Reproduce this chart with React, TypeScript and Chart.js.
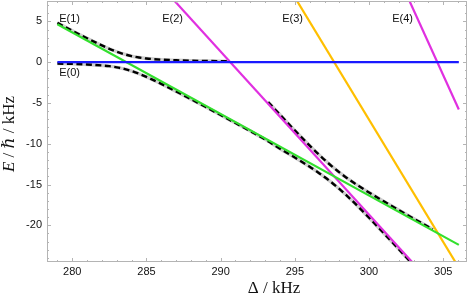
import React, { useEffect, useRef } from 'react';
import { Chart, registerables } from 'chart.js';

Chart.register(...registerables);

// Axis ranges (kHz)
const xRange = [278.3, 306.6];
const yRange = [-24.5, 7.5];

// Tick labels
const xTickValues = [280, 285, 290, 295, 300, 305];
const yTickValues = [5, 0, -5, -10, -15, -20];

// Bare levels E(n): straight lines, endpoints
const e0Delta = [279, 306.05];
const e0Energy = [0, 0];
const e1Delta = [279, 306.05];
const e1Energy = [4.65, -22.4];
const e2Delta = [286.5, 303.3];
const e2Energy = [8.3, -25.3];
const e3Delta = [295, 305.9];
const e3Energy = [7.95, -24.75];
const e4Delta = [302.5, 306.05];
const e4Energy = [8.4, -5.8];

// Dressed (dashed) branches
const upperADelta = [279, 280, 281, 282, 282.5, 283, 283.5, 284, 284.5, 285, 286, 287, 288, 289, 290.6];
const upperAEnergy = [4.82, 3.86, 2.93, 2.05, 1.64, 1.28, 0.98, 0.74, 0.57, 0.45, 0.31, 0.23, 0.18, 0.15, 0.11];

const lowerDelta = [279, 280, 281, 282, 282.5, 283, 283.5, 284, 284.5, 285, 286, 287, 288, 289, 290, 291, 292, 293, 294, 295, 296, 296.5, 297, 297.5, 298, 298.5, 299, 300, 301, 302, 303];
const lowerEnergy = [-0.17, -0.21, -0.28, -0.4, -0.49, -0.63, -0.83, -1.09, -1.42, -1.8, -2.66, -3.58, -4.53, -5.5, -6.48, -7.46, -8.45, -9.47, -10.61, -11.69, -12.82, -13.43, -14.08, -14.78, -15.54, -16.36, -17.23, -19.07, -20.98, -22.92, -24.88];

const upperBDelta = [293.2, 294, 295, 296, 296.5, 297, 297.5, 298, 298.5, 299, 300, 301, 302, 303, 304.3];
const upperBEnergy = [-4.89, -6.44, -8.37, -10.23, -11.12, -11.97, -12.77, -13.51, -14.19, -14.82, -15.98, -17.07, -18.13, -19.17, -20.5];

// Level labels and their anchor points (Δ, E)
const levelLabels = ['E(0)', 'E(1)', 'E(2)', 'E(3)', 'E(4)'];
const labelDelta = [279.12, 279.12, 286.06, 294.15, 301.56];
const labelEnergy = [-1.35, 5.27, 5.27, 5.27, 5.27];

const xTitle = 'Δ / kHz';
const yTitleParts: [string, boolean][] = [['E', true], [' / ', false], ['ℏ', true], [' / kHz', false]];

const zip = (xs: number[], ys: number[]) => xs.map((x, i) => ({ x, y: ys[i] }));

const FRAME = '#b4b4b4';
const SANS = '"Liberation Sans", Arial, sans-serif';
const SERIF = '"Liberation Serif", "DejaVu Serif", serif';

const framePlugin = {
  id: 'frameTicks',
  afterDraw(chart: any) {
    const { ctx, chartArea: a, scales } = chart;
    const xs = scales.x, ys = scales.y;
    ctx.save();
    ctx.strokeStyle = FRAME;
    ctx.lineWidth = 1;
    ctx.strokeRect(Math.round(a.left) + 0.5, Math.round(a.top) + 0.5, Math.round(a.right - a.left) - 1, Math.round(a.bottom - a.top) - 1);
    ctx.beginPath();
    for (let v = Math.ceil(xs.min); v <= xs.max; v++) {
      const len = v % 5 === 0 ? 4 : 2;
      const px = Math.round(xs.getPixelForValue(v)) + 0.5;
      ctx.moveTo(px, a.bottom); ctx.lineTo(px, a.bottom - len);
      ctx.moveTo(px, a.top); ctx.lineTo(px, a.top + len);
    }
    for (let v = Math.ceil(ys.min); v <= ys.max; v++) {
      const len = v % 5 === 0 ? 4 : 2;
      const py = Math.round(ys.getPixelForValue(v)) + 0.5;
      ctx.moveTo(a.left, py); ctx.lineTo(a.left + len, py);
      ctx.moveTo(a.right, py); ctx.lineTo(a.right - len, py);
    }
    ctx.stroke();

    ctx.fillStyle = '#111';
    ctx.font = '11px ' + SANS;
    ctx.textBaseline = 'middle';

    // tick labels
    ctx.textAlign = 'center';
    xTickValues.forEach((v) => ctx.fillText(String(v), xs.getPixelForValue(v), a.bottom + 10));
    ctx.textAlign = 'right';
    yTickValues.forEach((v) => ctx.fillText(String(v), a.left - 5, ys.getPixelForValue(v)));

    // level labels
    ctx.textAlign = 'left';
    levelLabels.forEach((t, i) => {
      ctx.fillText(t, xs.getPixelForValue(labelDelta[i]), ys.getPixelForValue(labelEnergy[i]));
    });

    // x title
    ctx.font = '17px ' + SERIF;
    ctx.textAlign = 'center';
    ctx.fillText(xTitle, 274, 289);

    // y title (rotated, mixed italic)
    ctx.translate(10, 134);
    ctx.rotate(-Math.PI / 2);
    const fontFor = (it: boolean) => (it ? 'italic ' : '') + '17px ' + SERIF;
    let total = 0;
    yTitleParts.forEach(([t, it]) => { ctx.font = fontFor(it); total += ctx.measureText(t).width; });
    let x = -total / 2;
    ctx.textAlign = 'left';
    yTitleParts.forEach(([t, it]) => {
      ctx.font = fontFor(it);
      ctx.fillText(t, x, 0);
      x += ctx.measureText(t).width;
    });
    ctx.restore();
  },
};

export default function App() {
  const ref = useRef<HTMLCanvasElement | null>(null);
  useEffect(() => {
    if (!ref.current) return;
    const line = (data: any[], color: string, width: number, extra: any = {}) => ({
      data, borderColor: color, borderWidth: width, pointRadius: 0, fill: false, tension: 0, ...extra,
    });
    const smooth = { cubicInterpolationMode: 'monotone' };
    const chart = new Chart(ref.current, {
      type: 'line',
      data: {
        datasets: [
          line(zip(e0Delta, e0Energy), '#1a1aff', 2.2),
          line(zip(e1Delta, e1Energy), '#33e02e', 2.2),
          line(zip(e2Delta, e2Energy), '#e030e0', 2.2),
          line(zip(e3Delta, e3Energy), '#ffbf00', 2.2),
          line(zip(e4Delta, e4Energy), '#e030e0', 2.2),
          line(zip(upperADelta, upperAEnergy), '#000', 2.4, { ...smooth, borderDash: [6, 3.5] }),
          line(zip(lowerDelta, lowerEnergy), '#000', 2.4, { ...smooth, borderDash: [6, 3.5] }),
          line(zip(upperBDelta, upperBEnergy), '#000', 2.4, { ...smooth, borderDash: [6, 3.5] }),
          line(zip(upperADelta, upperAEnergy), '#cfcfcf', 3.4, smooth),
          line(zip(lowerDelta, lowerEnergy), '#cfcfcf', 3.4, smooth),
          line(zip(upperBDelta, upperBEnergy), '#cfcfcf', 3.4, smooth),
        ] as any,
      },
      options: {
        animation: false,
        responsive: true,
        maintainAspectRatio: false,
        parsing: false,
        layout: { padding: { top: 1, right: 2, left: 0, bottom: 0 } },
        plugins: { legend: { display: false }, tooltip: { enabled: false } },
        scales: {
          x: {
            type: 'linear', min: xRange[0], max: xRange[1],
            grid: { display: false }, border: { display: false },
            ticks: { display: false },
            afterFit: (s: any) => { s.height = 36; },
          },
          y: {
            type: 'linear', min: yRange[0], max: yRange[1],
            grid: { display: false }, border: { display: false },
            ticks: { display: false },
            afterFit: (s: any) => { s.width = 47; },
          },
        },
      } as any,
      plugins: [framePlugin],
    });
    return () => chart.destroy();
  }, []);
  return (
    <div style={{ position: 'fixed', left: 0, top: 0, width: 469, height: 298, background: '#fff' }}>
      <canvas ref={ref} />
    </div>
  );
}
